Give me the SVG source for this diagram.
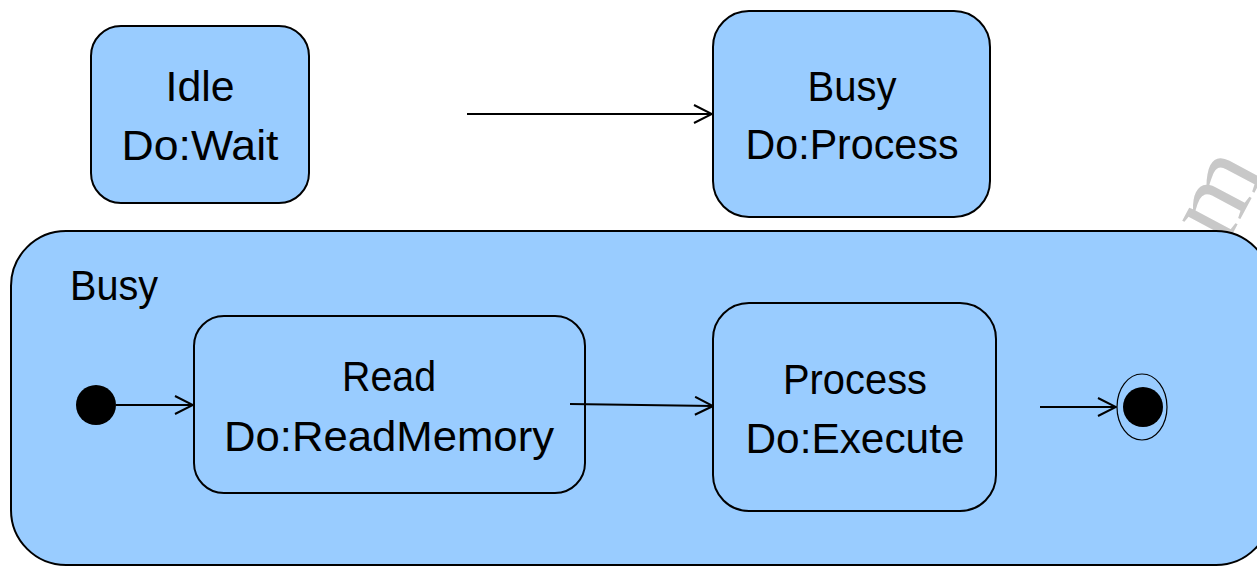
<svg xmlns="http://www.w3.org/2000/svg" width="1257" height="567" viewBox="0 0 1257 567">
  <style>
    .state { fill: #99CCFF; stroke: #000; stroke-width: 2; }
    .label { font-family: "Liberation Sans", Arial, sans-serif; font-size: 43px; fill: #000; text-anchor: middle; }
    .edge { fill: none; stroke: #000; stroke-width: 2; }
    .mark { font-family: "Liberation Serif", serif; font-size: 110px; fill: #c8c8c8; }
  </style>
  <defs>
    <marker id="open-arrow" viewBox="0 0 20 20" refX="19" refY="10" markerWidth="20" markerHeight="20" markerUnits="userSpaceOnUse" orient="auto">
      <path d="M1,1 L19,10 L1,19" fill="none" stroke="#000" stroke-width="2"/>
    </marker>
  </defs>

  <rect width="1257" height="567" fill="#fff"/>

  <!-- faint watermark behind the composite state -->
  <text class="mark" x="1200" y="295" transform="rotate(-62 1200 295)">hm</text>

  <!-- composite state Busy -->
  <g id="busy-composite">
    <rect class="state" x="11" y="231" width="1260" height="334" rx="55" ry="55"/>
    <text class="label" x="114" y="300" textLength="88" lengthAdjust="spacingAndGlyphs">Busy</text>
  </g>

  <g id="idle">
    <rect class="state" x="91" y="26" width="218" height="177" rx="30" ry="30"/>
    <text class="label" x="200" y="101" textLength="69" lengthAdjust="spacingAndGlyphs">Idle</text>
    <text class="label" x="200" y="160" textLength="157" lengthAdjust="spacingAndGlyphs">Do:Wait</text>
  </g>

  <g id="busy">
    <rect class="state" x="713" y="11" width="277" height="206" rx="36" ry="36"/>
    <text class="label" x="852" y="101" textLength="89" lengthAdjust="spacingAndGlyphs">Busy</text>
    <text class="label" x="852" y="159" textLength="213" lengthAdjust="spacingAndGlyphs">Do:Process</text>
  </g>

  <g id="read">
    <rect class="state" x="194" y="316" width="391" height="177" rx="30" ry="30"/>
    <text class="label" x="389" y="391" textLength="94" lengthAdjust="spacingAndGlyphs">Read</text>
    <text class="label" x="389" y="451" textLength="330" lengthAdjust="spacingAndGlyphs">Do:ReadMemory</text>
  </g>

  <g id="process">
    <rect class="state" x="713" y="303" width="283" height="208" rx="36" ry="36"/>
    <text class="label" x="855" y="394" textLength="144" lengthAdjust="spacingAndGlyphs">Process</text>
    <text class="label" x="855" y="453" textLength="219" lengthAdjust="spacingAndGlyphs">Do:Execute</text>
  </g>

  <g id="initial">
    <circle cx="96" cy="405" r="20" fill="#000"/>
  </g>

  <g id="final">
    <ellipse cx="1142" cy="407" rx="25" ry="33" fill="none" stroke="#000" stroke-width="1.2"/>
    <circle cx="1143" cy="407" r="20" fill="#000"/>
  </g>

  <g id="connectors">
    <line class="edge" x1="467" y1="114" x2="712" y2="114" marker-end="url(#open-arrow)"/>
    <line class="edge" x1="116" y1="405" x2="193" y2="405" marker-end="url(#open-arrow)"/>
    <line class="edge" x1="570" y1="404" x2="713" y2="406" marker-end="url(#open-arrow)"/>
    <line class="edge" x1="1040" y1="407" x2="1116" y2="407" marker-end="url(#open-arrow)"/>
  </g>
</svg>
